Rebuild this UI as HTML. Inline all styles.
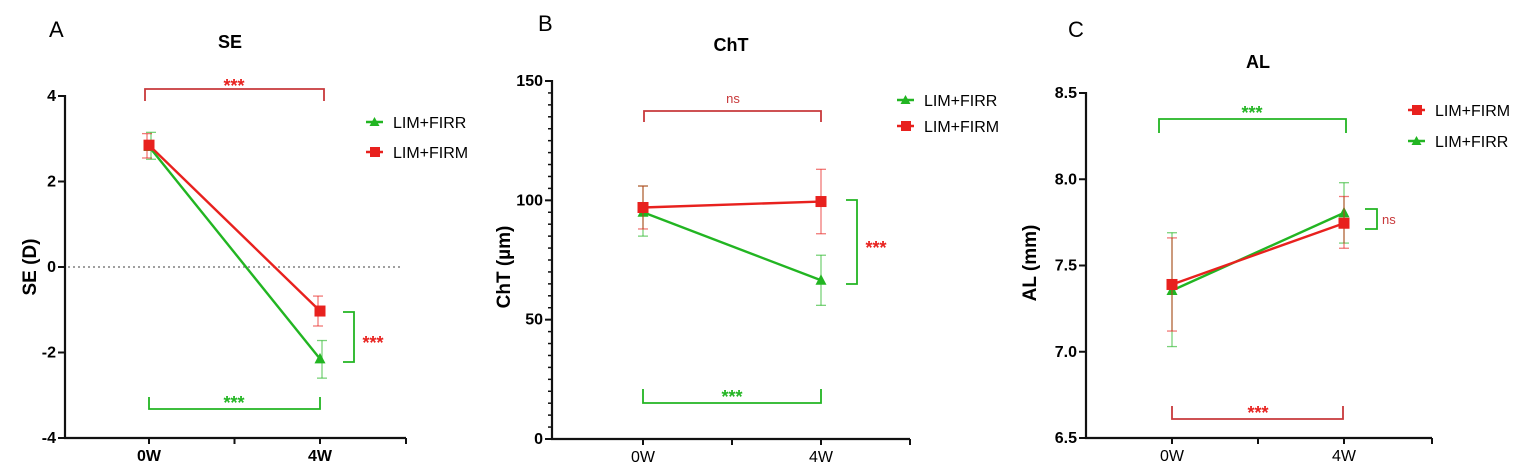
<!DOCTYPE html>
<html><head><meta charset="utf-8"><style>
html,body{margin:0;padding:0;background:#fff;}
svg{display:block;font-family:"Liberation Sans",Arial,sans-serif;}
</style></head><body>
<svg id="fig" width="1535" height="476" viewBox="0 0 1535 476"></svg>
<script>
// Panel A (SE)
const seTimes = ["0W","4W"];
const seFIRR = [2.82, -2.15];
const seFIRRlo = [2.52, -2.6];
const seFIRRhi = [3.15, -1.72];
const seFIRM = [2.85, -1.03];
const seFIRMlo = [2.55, -1.38];
const seFIRMhi = [3.12, -0.68];
const seTicks = [-4,-2,0,2,4];
// Panel B (ChT)
const chtFIRR = [95, 66.5];
const chtFIRRlo = [85, 56];
const chtFIRRhi = [106, 77];
const chtFIRM = [97, 99.5];
const chtFIRMlo = [88, 86];
const chtFIRMhi = [106, 113];
const chtTicks = [0,50,100,150];
// Panel C (AL)
const alFIRM = [7.39, 7.745];
const alFIRMlo = [7.12, 7.60];
const alFIRMhi = [7.66, 7.90];
const alFIRR = [7.355, 7.805];
const alFIRRlo = [7.03, 7.63];
const alFIRRhi = [7.69, 7.98];
const alTicks = ["6.5","7.0","7.5","8.0","8.5"];

const NS="http://www.w3.org/2000/svg";
const svg=document.getElementById('fig');
const G="#22b522", R="#e8211e", RB="#c8393b";
function el(tag,attrs,parent,text){
  const e=document.createElementNS(NS,tag);
  for(const k in attrs) e.setAttribute(k,attrs[k]);
  if(text!==undefined) e.textContent=text;
  (parent||svg).appendChild(e); return e;
}
function panel(cfg){
  const g=el('g',{});
  
  
  const y=v=>cfg.y0+(v-cfg.vmin)/(cfg.vmax-cfg.vmin)*(cfg.y1-cfg.y0);
  const x=i=>cfg.xs[i];
  const L=el('text',{x:cfg.letter[0],y:cfg.letter[1],'font-size':22},g,cfg.letterText);
   
  const T=el('text',{x:cfg.title[0],y:cfg.title[1],'font-size':18,'font-weight':'bold','text-anchor':'middle'},g,cfg.titleText);
   
  const ax=el('path',{d:`M${cfg.ax} ${cfg.y1-1}V${cfg.y0}H${cfg.axEnd}`,stroke:'#111','stroke-width':2.2,fill:'none'},g);
   
  [x(0),(x(0)+x(1))/2,x(1),cfg.axEnd].forEach(tx=>el('line',{x1:tx,x2:tx,y1:cfg.y0,y2:cfg.y0+6,stroke:'#111','stroke-width':2},g));
  seTimes.forEach((t,i)=>{
    const e=el('text',{x:x(i),y:cfg.y0+23,'font-size':16,'font-weight':cfg.xbold?'bold':'normal','text-anchor':'middle'},g,t);
     
  });
  if(cfg.minor){ for(let v=cfg.vmin; v<=cfg.vmax+1e-9; v+=cfg.minor) el('line',{x1:cfg.ax-4,x2:cfg.ax,y1:y(v),y2:y(v),stroke:'#111','stroke-width':1.5},g); }
  cfg.ticks.forEach(t=>{
    const v=parseFloat(t);
    el('line',{x1:cfg.ax-7,x2:cfg.ax,y1:y(v),y2:y(v),stroke:'#111','stroke-width':2},g);
    const e=el('text',{x:cfg.ax-9,y:y(v)+5,'font-size':16,'font-weight':'bold','text-anchor':'end'},g,t);
     
  });
  const yl=el('text',{x:cfg.ylab[0],y:cfg.ylab[1],'font-size':19,'font-weight':'bold','text-anchor':'middle',transform:`rotate(-90 ${cfg.ylab[0]} ${cfg.ylab[1]})`},g,cfg.ylabText);
   
  if(cfg.zero){ const z=el('line',{x1:cfg.ax+3,x2:cfg.axEnd-3,y1:y(0),y2:y(0),stroke:'#666','stroke-width':1.2,'stroke-dasharray':'2 3'},g);
      }
  cfg.brackets.forEach(b=>{
    const p=el('path',{d:b.d,stroke:b.c,'stroke-width':1.8,fill:'none'},g);
     
    const t=el('text',{x:b.tx,y:b.fs?b.ty:b.ty+5,'font-size':b.fs||18,'font-weight':b.fs?'normal':'bold','text-anchor':b.anchor||'middle',fill:b.tc},g,b.t);
     
  });
  cfg.series.forEach(s=>{
    const sg=el('g',{},g);
     
    s.vals.forEach((v,i)=>{
      const ex=x(i)+(s.dx||0);
      el('line',{x1:ex,x2:ex,y1:y(s.lo[i]),y2:y(s.hi[i]),stroke:s.c,'stroke-width':1.3,opacity:0.6},sg);
      [s.lo[i],s.hi[i]].forEach(w=>el('line',{x1:ex-5,x2:ex+5,y1:y(w),y2:y(w),stroke:s.c,'stroke-width':1.3,opacity:0.6},sg));
    });
    el('polyline',{points:s.vals.map((v,i)=>`${x(i)},${y(v)}`).join(' '),stroke:s.c,'stroke-width':2.4,fill:'none'},sg);
    s.vals.forEach((v,i)=>{
      let m;
      if(s.shape==='sq') m=el('rect',{x:x(i)-5.5,y:y(v)-5.5,width:11,height:11,fill:s.c},sg);
      else m=el('polygon',{points:`${x(i)},${y(v)-6} ${x(i)-5.5},${y(v)+4.5} ${x(i)+5.5},${y(v)+4.5}`,fill:s.c},sg);
       
    });
  });
  cfg.legend.forEach(l=>{
    const lg=el('g',{},g);
     
    el('line',{x1:l.x,x2:l.x+17,y1:l.y,y2:l.y,stroke:l.c,'stroke-width':2.4},lg);
    if(l.shape==='sq') el('rect',{x:l.x+4,y:l.y-5,width:10,height:10,fill:l.c},lg);
    else el('polygon',{points:`${l.x+8.5},${l.y-5} ${l.x+3.5},${l.y+4} ${l.x+13.5},${l.y+4}`,fill:l.c},lg);
    el('text',{x:l.x+27,y:l.y+6,'font-size':16},lg,l.t);
  });
}
panel({name:'panel-a-se',letterText:'A',letter:[49,37],titleText:'SE',title:[230,48],
  ax:65,axEnd:406,xs:[149,320],y0:438,y1:96,vmin:-4,vmax:4,ticks:seTicks.map(String),xbold:true,
  ylab:[36,267],ylabText:'SE (D)',zero:true,
  brackets:[
    {d:'M145 101V89H324V101',c:RB,t:'***',tx:234,ty:87,tc:R},
    {d:'M149 397V409H320V397',c:G,t:'***',tx:234,ty:404,tc:G},
    {d:'M343 312H354V362H343',c:G,t:'***',tx:373,ty:344,tc:R}],
  series:[
    {key:'lim-firr',vals:seFIRR,lo:seFIRRlo,hi:seFIRRhi,c:G,shape:'tri',dx:2},
    {key:'lim-firm',vals:seFIRM,lo:seFIRMlo,hi:seFIRMhi,c:R,shape:'sq',dx:-2}],
  legend:[{x:366,y:122,c:G,shape:'tri',t:'LIM+FIRR'},{x:366,y:152,c:R,shape:'sq',t:'LIM+FIRM'}]});
panel({name:'panel-b-cht',letterText:'B',letter:[538,31],titleText:'ChT',title:[731,51],
  ax:552,axEnd:910,xs:[643,821],y0:439,y1:81,vmin:0,vmax:150,ticks:chtTicks.map(String),minor:5,xbold:false,
  ylab:[510,267],ylabText:'ChT (µm)',
  brackets:[
    {d:'M644 122V111H821V122',c:RB,fs:13,t:'ns',tx:733,ty:103,tc:RB},
    {d:'M643 389V403H821V389',c:G,t:'***',tx:732,ty:398,tc:G},
    {d:'M846 200H857V284H846',c:G,t:'***',tx:876,ty:249,tc:R}],
  series:[
    {key:'lim-firr',vals:chtFIRR,lo:chtFIRRlo,hi:chtFIRRhi,c:G,shape:'tri'},
    {key:'lim-firm',vals:chtFIRM,lo:chtFIRMlo,hi:chtFIRMhi,c:R,shape:'sq'}],
  legend:[{x:897,y:100,c:G,shape:'tri',t:'LIM+FIRR'},{x:897,y:126,c:R,shape:'sq',t:'LIM+FIRM'}]});
panel({name:'panel-c-al',letterText:'C',letter:[1068,37],titleText:'AL',title:[1258,68],
  ax:1086,axEnd:1432,xs:[1172,1344],y0:438,y1:93,vmin:6.5,vmax:8.5,ticks:alTicks,xbold:false,
  ylab:[1036,263],ylabText:'AL (mm)',
  brackets:[
    {d:'M1159 133V119H1346V133',c:G,t:'***',tx:1252,ty:114,tc:G},
    {d:'M1172 406V419H1343V406',c:RB,t:'***',tx:1258,ty:414,tc:R},
    {d:'M1365 209H1377V229H1365',c:G,fs:13,t:'ns',tx:1382,ty:224,tc:RB,anchor:'start'}],
  series:[
    {key:'lim-firr',vals:alFIRR,lo:alFIRRlo,hi:alFIRRhi,c:G,shape:'tri'},
    {key:'lim-firm',vals:alFIRM,lo:alFIRMlo,hi:alFIRMhi,c:R,shape:'sq'}],
  legend:[{x:1408,y:110,c:R,shape:'sq',t:'LIM+FIRM'},{x:1408,y:141,c:G,shape:'tri',t:'LIM+FIRR'}]});
</script>
</body></html>
